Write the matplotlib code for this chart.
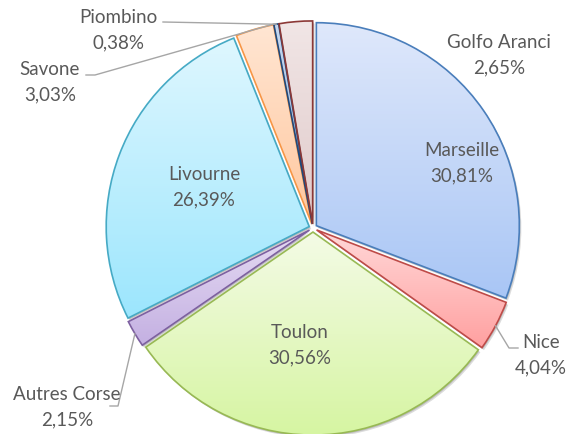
import numpy as np
import matplotlib
matplotlib.use("Agg")
import matplotlib.pyplot as plt
from matplotlib.patches import Wedge
from matplotlib.colors import LinearSegmentedColormap

# ---- data ----
categories = ["Marseille", "Nice", "Toulon", "Autres Corse", "Livourne",
              "Savone", "Piombino", "Golfo Aranci"]
shares = [30.81, 4.04, 30.56, 2.15, 26.39, 3.03, 0.38, 2.65]
share_labels = ["30,81%", "4,04%", "30,56%", "2,15%", "26,39%", "3,03%", "0,38%", "2,65%"]

# ---- styles ----
grad_top = ['#dfe8fb', '#ffd8d8', '#f4fbe6', '#e6dcf3', '#dff7ff', '#ffe6d3', '#c6d9f1', '#f1e6e6']
grad_bot = ['#a9c6f5', '#ffa0a0', '#d6f5a2', '#c4b0e2', '#9ce6fd', '#ffc79e', '#95b3d7', '#e0caca']
edges = ['#4a7ebb', '#be4b48', '#98b954', '#7d60a0', '#46aac5', '#f79646', '#1f497d', '#8c3836']

W, H = 582, 434
CX, CY = 313, 228     # pie centre (pixels)
R = 203.0             # radius in pixels

def P(px, py):
    return ((px - CX) / R, (CY - py) / R)

plt.rcParams['font.family'] = ['Lato', 'DejaVu Sans']
fig = plt.figure(figsize=(W / 100, H / 100), dpi=100)
ax = fig.add_axes([0, 0, 1, 1])
xlim = (-CX / R, (W - CX) / R)
ylim = (-(H - CY) / R, CY / R)

wedges, _ = ax.pie(shares, startangle=90, counterclock=False, radius=1,
                   explode=[0.02] * len(shares),
                   wedgeprops=dict(linewidth=1.2, facecolor='none'))

for i, w in enumerate(wedges):
    w.set_edgecolor(edges[i])
    w.set_zorder(3)
    cx, cy = w.center
    # shadow
    for off, al in [((2.0, -2.5), 0.22), ((1.0, -1.5), 0.25)]:
        sh = Wedge((cx + off[0] / R, cy + off[1] / R), w.r, w.theta1, w.theta2,
                   facecolor='#606060', edgecolor='none', alpha=al, zorder=1)
        ax.add_patch(sh)
    # gradient fill
    ext = w.get_path().get_extents()
    cmap = LinearSegmentedColormap.from_list('g%d' % i, [grad_bot[i], grad_top[i]])
    grad = np.linspace(0, 1, 256).reshape(-1, 1)
    im = ax.imshow(grad, extent=(ext.x0, ext.x1, ext.y0, ext.y1), origin='lower',
                   cmap=cmap, aspect='auto', zorder=2, interpolation='bilinear')
    im.set_clip_path(w)

ax.set_xlim(*xlim)
ax.set_ylim(*ylim)
ax.axis('off')

tc = '#595959'
fs = 13.5

def lab(i, px, py):
    x, y = P(px, py)
    ax.text(x, y, categories[i] + "\n" + share_labels[i], ha='center', va='center',
            fontsize=fs, color=tc, linespacing=1.6, zorder=5)

lab(0, 462, 163)
lab(2, 300, 345)
lab(4, 204, 187)
lab(1, 541, 355)
lab(3, 67, 407)
lab(5, 50, 82)
lab(6, 118, 30)
lab(7, 499, 55)

# leader lines
def anchor(i):
    w = wedges[i]
    th = np.deg2rad(0.5 * (w.theta1 + w.theta2))
    return (w.center[0] + w.r * np.cos(th), w.center[1] + w.r * np.sin(th))

leaders = {1: (None, [(509, 348), (518, 348)]),
           3: (None, [(118, 406), (110, 406)]),
           5: ((274, 24), [(95, 75), (86, 75)]),
           6: (None, [(163, 22)])}
for i, (start, pts) in leaders.items():
    a = anchor(i) if start is None else P(*start)
    xs = [a[0]] + [P(*p)[0] for p in pts]
    ys = [a[1]] + [P(*p)[1] for p in pts]
    ax.plot(xs, ys, color='#a6a6a6', lw=1.0, zorder=4)

fig.savefig('out.png', dpi=100)
